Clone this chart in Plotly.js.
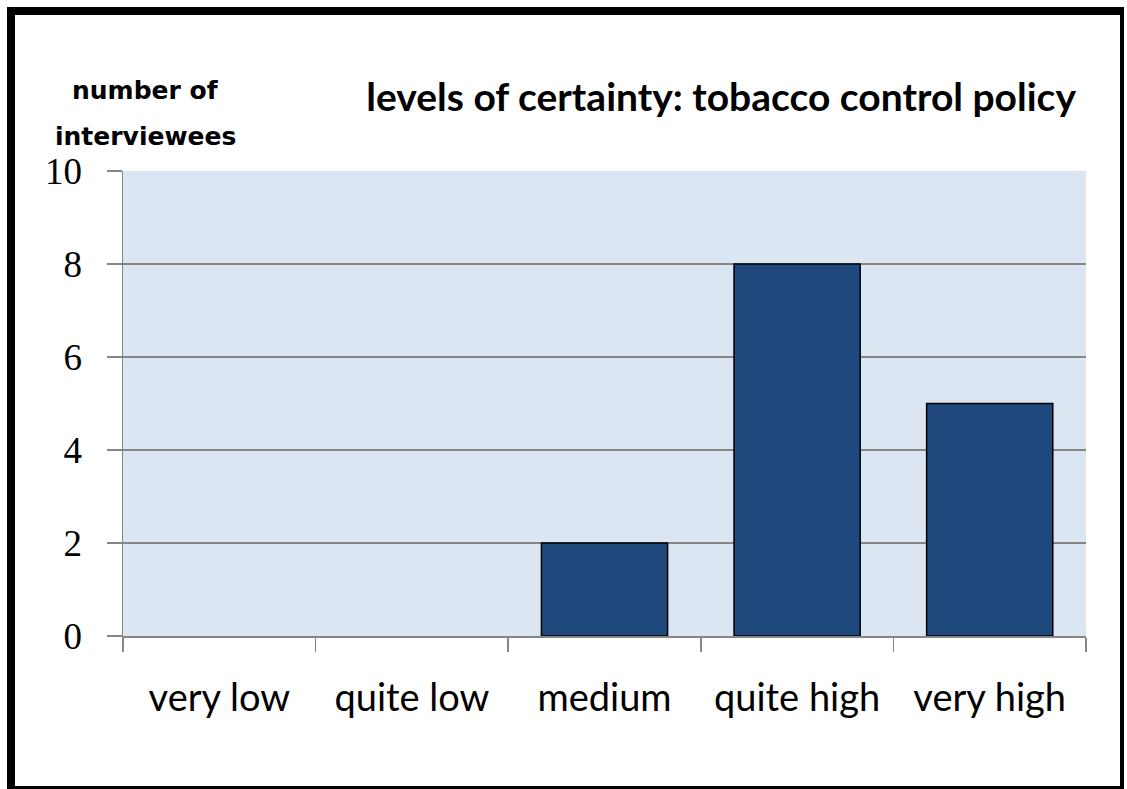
<!DOCTYPE html>
<html>
<head>
<meta charset="utf-8">
<script src="https://cdn.plot.ly/plotly-3.0.1.min.js"></script>
<style>
  html, body { margin: 0; padding: 0; background: #fff; }
  #chart { width: 1127px; height: 789px; }
</style>
</head>
<body>
<div id="chart"></div>
<script>
const categories = ["very low", "quite low", "medium", "quite high", "very high"];
const counts = [0, 0, 2, 8, 5];
const yTickValues = [0, 2, 4, 6, 8, 10];
const chartTitle = "levels of certainty: tobacco control policy";
const yAxisTitleLines = ["number of", "interviewees"];

const trace = {
  type: "bar",
  x: categories,
  y: counts,
  marker: {
    color: "#1F497D",
    line: { color: "#000000", width: counts.map(v => (v > 0 ? 1.5 : 0)) }
  },
  hoverinfo: "x+y"
};

const W = 963, H = 465, L = 123, T = 171;
const px = x => (x - L) / W;
const py = y => (T + H - y) / H;

const layout = {
  width: 1127,
  height: 789,
  margin: { l: 123, r: 41, t: 171, b: 153, pad: 0 },
  paper_bgcolor: "#ffffff",
  plot_bgcolor: "#DCE6F2",
  bargap: 0.345,
  showlegend: false,
  title: {
    text: chartTitle,
    font: { family: "Lato, 'Open Sans', sans-serif", size: 39, color: "#000", weight: "bold" },
    xref: "paper", x: px(1076), xanchor: "right",
    yref: "container", y: 1 - 97/789, yanchor: "middle"
  },
  xaxis: {
    type: "category",
    tickson: "boundaries",
    ticks: "outside",
    ticklen: 14,
    tickwidth: 1.5,
    tickcolor: "#868686",
    showline: true,
    linecolor: "#868686",
    linewidth: 1.5,
    showgrid: false,
    ticklabelstandoff: 28,
    tickfont: { family: "Lato, 'Open Sans', sans-serif", size: 38, color: "#000" },
    fixedrange: true
  },
  yaxis: {
    range: [0, 10],
    tickvals: yTickValues,
    ticks: "outside",
    ticklen: 15,
    tickwidth: 1.5,
    tickcolor: "#868686",
    showline: true,
    linecolor: "#868686",
    linewidth: 1.5,
    showgrid: true,
    gridcolor: "#868686",
    gridwidth: 1.5,
    zeroline: false,
    ticklabelstandoff: 17,
    tickfont: { family: "'Liberation Serif', 'Times New Roman', serif", size: 37, color: "#000" },
    fixedrange: true
  },
  annotations: yAxisTitleLines.map((line, i) => ({
    text: line,
    xref: "paper", yref: "paper",
    x: px(145), y: py(i === 0 ? 91 : 136),
    xanchor: "center", yanchor: "middle",
    showarrow: false,
    font: { family: "'DejaVu Sans', sans-serif", size: 25, color: "#000", weight: "bold" }
  })),
  shapes: [
    { type: "line", xref: "paper", yref: "paper", x0: px(7), x1: px(1124), y0: py(11), y1: py(11), line: { color: "#000", width: 8 } },
    { type: "line", xref: "paper", yref: "paper", x0: px(11), x1: px(11), y0: py(7), y1: py(789), line: { color: "#000", width: 8 } },
    { type: "line", xref: "paper", yref: "paper", x0: px(1122), x1: px(1122), y0: py(7), y1: py(789), line: { color: "#000", width: 4 } },
    { type: "line", xref: "paper", yref: "paper", x0: px(7), x1: px(1124), y0: py(787.5), y1: py(787.5), line: { color: "#000", width: 3 } }
  ]
};

Plotly.newPlot("chart", [trace], layout, { displayModeBar: false, staticPlot: true });
</script>
</body>
</html>
